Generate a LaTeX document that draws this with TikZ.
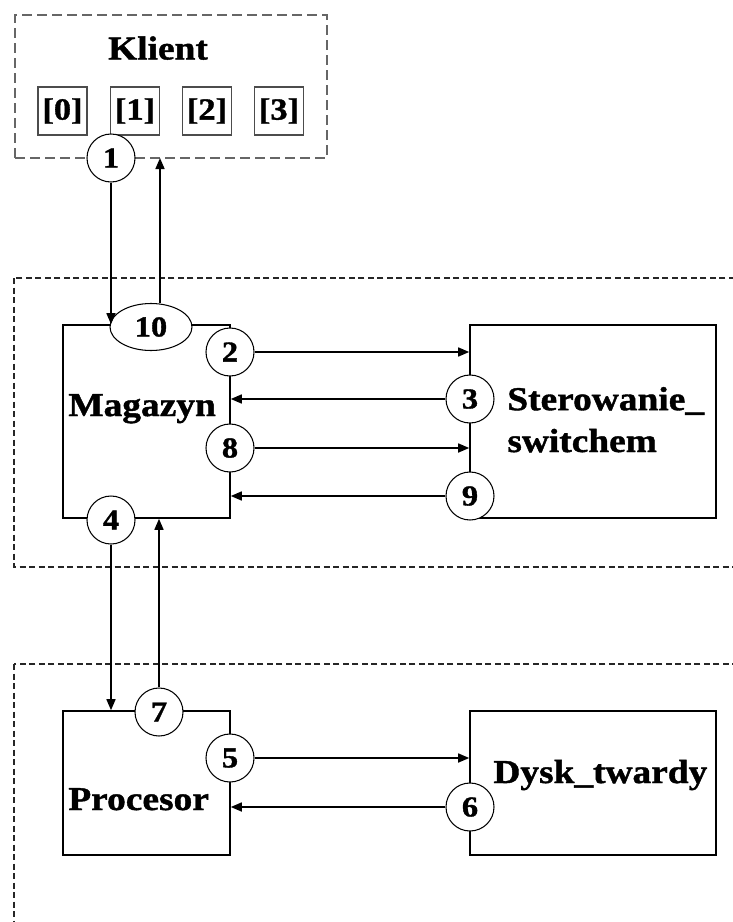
\documentclass[tikz,border=0pt]{standalone}
\usepackage{fontspec}
\newfontfamily\labfont[FakeStretch=1.12,FakeBold=1.2]{Liberation Serif}
\usetikzlibrary{shapes.geometric,arrows.meta,positioning,calc}

\tikzset{
  block/.style={draw=black, line width=0.9pt, minimum width=3.34cm, minimum height=3.86cm, inner sep=0pt},
  port/.style={circle, draw=black, line width=0.6pt, fill=white, minimum size=0.96cm, inner sep=0pt,
    font=\labfont\bfseries\fontsize{16.5}{18}\selectfont},
  cell/.style={draw=black!70, line width=1pt, minimum width=0.98cm, minimum height=0.96cm, inner sep=0pt,
    font=\labfont\bfseries\fontsize{17.5}{19}\selectfont},
  lbl/.style={inner sep=0pt, font=\labfont\bfseries\fontsize{19}{23.8}\selectfont},
  flow/.style={-{Triangle[length=0.22cm,width=0.18cm]}, line width=0.9pt},
  groupbox/.style={draw=black!85, line width=0.7pt, dash pattern=on 0.12cm off 0.07cm}
}

\begin{document}
\begin{tikzpicture}
\useasboundingbox (0,0) rectangle (14.66,-18.44);

% ================= CLIENT =================
\node[draw=black!60, line width=1.1pt, dash pattern=on 0.2cm off 0.1cm,
  minimum width=6.24cm, minimum height=2.86cm] (klient) at (3.42,-1.73) {};
\node[lbl, anchor=base] (klienttxt) at (3.16,-1.19) {Klient};

\node[cell] (cell0) at (1.25,-2.22) {[0]};
\node[cell] (cell1) at (2.70,-2.22) {[1]};
\node[cell] (cell2) at (4.14,-2.22) {[2]};
\node[cell] (cell3) at (5.58,-2.22) {[3]};

% ================= GROUP FRAMES =================
\draw[groupbox] (0.28,-5.56) rectangle (15.2,-11.34);
\draw[groupbox] (0.28,-13.28) rectangle (15.2,-19.0);

% ================= BLOCKS =================
\node[block] (mag) at (2.93,-8.43) {};
\node[block, minimum width=4.92cm] (ster) at (11.86,-8.43) {};
\node[block, minimum height=2.88cm] (proc) at (2.93,-15.66) {};
\node[block, minimum width=4.92cm, minimum height=2.88cm] (dysk) at (11.86,-15.66) {};

\node[lbl, anchor=base west] (magtxt) at (1.36,-8.32) {Magazyn};
\node[lbl, anchor=base west, align=left] (stertxt) at (10.14,-9.04) {Sterowanie\_\\switchem};
\node[lbl, anchor=base west] (proctxt) at (1.36,-16.20) {Procesor};
\node[lbl, anchor=base west] (dysktxt) at (9.86,-15.66) {Dysk\_twardy};

% ================= PORTS =================
\node[port] (p1) at (2.22,-3.16) {1};
\node[port, ellipse, minimum width=1.64cm, minimum height=0.94cm] (p10) at (3.02,-6.54) {10};
\node[port] (p2) at (4.60,-7.04) {2};
\node[port] (p3) at (9.40,-7.98) {3};
\node[port] (p8) at (4.60,-8.96) {8};
\node[port] (p9) at (9.40,-9.92) {9};
\node[port] (p4) at (2.22,-10.40) {4};
\node[port] (p7) at (3.18,-14.24) {7};
\node[port] (p5) at (4.60,-15.16) {5};
\node[port] (p6) at (9.40,-16.14) {6};

% ================= CONNECTORS =================
\coordinate (back) at (3.20,-3.16);
\draw[flow] (p1.south) -- (p1.south |- mag.north);
\draw[flow] (back |- p10.north) -- (back);

\draw[flow] (p2.east) -- (p2.east -| ster.west);
\draw[flow] (p3.west) -- (p3.west -| mag.east);
\draw[flow] (p8.east) -- (p8.east -| ster.west);
\draw[flow] (p9.west) -- (p9.west -| mag.east);

\draw[flow] (p4.south) -- (p4.south |- proc.north);
\draw[flow] (p7.north) -- (p7.north |- mag.south);

\draw[flow] (p5.east) -- (p5.east -| dysk.west);
\draw[flow] (p6.west) -- (p6.west -| proc.east);

\end{tikzpicture}
\end{document}
